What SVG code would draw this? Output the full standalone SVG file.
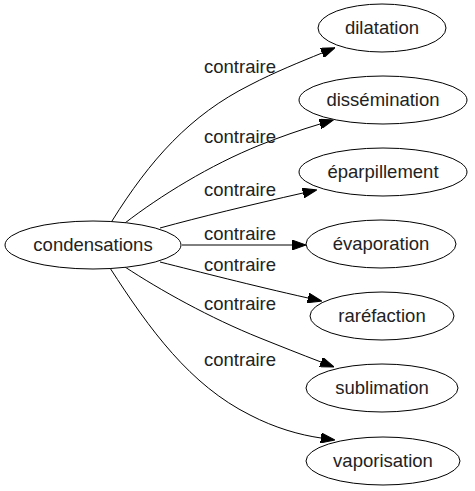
<svg xmlns="http://www.w3.org/2000/svg" width="475" height="491" viewBox="0 0 475 491">
<style>
.node ellipse{fill:#fff;stroke:#000;stroke-width:1}
text{font-family:"Liberation Sans",Arial,sans-serif;font-size:18.5px;fill:#222;text-anchor:middle}
.edge path{fill:none;stroke:#000;stroke-width:1;marker-end:url(#arr)}
</style>
<defs>
<marker id="arr" markerUnits="userSpaceOnUse" markerWidth="14" markerHeight="10" viewBox="0 0 14 10" refX="0" refY="5" orient="auto">
<path d="M0,0 L14,5 L0,10 z" fill="#000" stroke="#000" stroke-width="1"/>
</marker>
</defs>
<rect width="475" height="491" fill="#fff"/>
<g id="edges" class="edge">
<path d="M112,221 C150,160 190,115 250,85 C275,72 300,62 322,53"/>
<path d="M125,223 C160,196 210,165 260,145 C280,137 300,130 320,124"/>
<path d="M160,228 C200,217 250,205 303,193"/>
<path d="M182,245 L292,245"/>
<path d="M160,262 C200,272 250,285 308,298"/>
<path d="M125,267 C160,290 210,318 260,338 C280,346 300,354 321,362"/>
<path d="M110,268 C150,330 190,385 250,415 C275,428 300,435 321,438"/>
<text x="240" y="73">contraire</text>
<text x="240" y="143">contraire</text>
<text x="240" y="196">contraire</text>
<text x="240" y="240">contraire</text>
<text x="240" y="271">contraire</text>
<text x="240" y="310">contraire</text>
<text x="240" y="366">contraire</text>
</g>
<g id="condensations" class="node"><ellipse cx="93" cy="245" rx="88" ry="24"/><text x="93" y="251">condensations</text></g>
<g id="dilatation" class="node"><ellipse cx="382" cy="28" rx="64" ry="24"/><text x="382" y="34">dilatation</text></g>
<g id="dissemination" class="node"><ellipse cx="383" cy="100" rx="84" ry="24"/><text x="383" y="106">dissémination</text></g>
<g id="eparpillement" class="node"><ellipse cx="383" cy="172" rx="84" ry="24"/><text x="383" y="178">éparpillement</text></g>
<g id="evaporation" class="node"><ellipse cx="381" cy="244" rx="75" ry="24"/><text x="381" y="250">évaporation</text></g>
<g id="rarefaction" class="node"><ellipse cx="382" cy="316" rx="72" ry="24"/><text x="382" y="322">raréfaction</text></g>
<g id="sublimation" class="node"><ellipse cx="382" cy="388" rx="76" ry="24"/><text x="382" y="394">sublimation</text></g>
<g id="vaporisation" class="node"><ellipse cx="383" cy="461" rx="77" ry="24"/><text x="383" y="467">vaporisation</text></g>
</svg>
